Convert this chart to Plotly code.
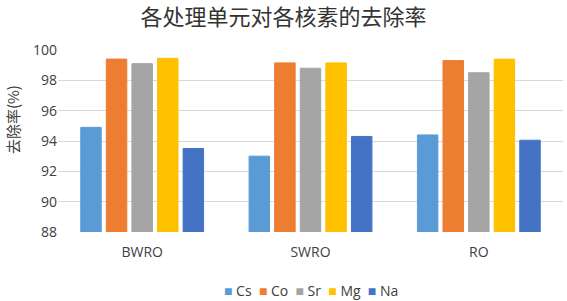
import plotly.graph_objects as go

categories = ["BWRO", "SWRO", "RO"]
series_names = ["Cs", "Co", "Sr", "Mg", "Na"]
cs = [94.9, 93.0, 94.4]
co = [99.4, 99.15, 99.3]
sr = [99.1, 98.8, 98.5]
mg = [99.45, 99.15, 99.4]
na = [93.5, 94.3, 94.05]
colors = ["#5B9BD5", "#ED7D31", "#A5A5A5", "#FFC000", "#4472C4"]
y_ticks = [88, 90, 92, 94, 96, 98, 100]

values = [cs, co, sr, mg, na]
fig = go.Figure()
for name, vals, col in zip(series_names, values, colors):
    fig.add_trace(go.Bar(x=categories, y=vals, name=name, showlegend=False,
                         marker=dict(color=col, line=dict(color=col, width=1))))

legend_text = "&nbsp;&nbsp;".join(
    f"<span style='color:{c}'>■</span> {n}" for n, c in zip(series_names, colors))
fig.add_annotation(text=legend_text, xref="paper", yref="paper", x=0.5, y=-0.324,
                   xanchor="center", yanchor="middle", showarrow=False,
                   font=dict(family="Open Sans", size=14, color="#404040"))
fig.add_annotation(text="去除率(%)", xref="paper", yref="paper", x=-0.091, y=0.615,
                   xanchor="center", yanchor="middle", showarrow=False, textangle=-90,
                   font=dict(family="Noto Sans CJK SC", size=15, color="#404040"))

fig.update_layout(
    width=567, height=301,
    margin=dict(l=58, r=4, t=50, b=69),
    paper_bgcolor="white", plot_bgcolor="white",
    title=dict(text="各处理单元对各核素的去除率", x=0.5, xanchor="center", y=0.9435, yanchor="middle",
               font=dict(family="Noto Sans CJK SC", size=22, color="#333333")),
    barmode="group", bargap=0.24, bargroupgap=0.2,
    font=dict(family="Open Sans, Noto Sans CJK SC", size=14, color="#404040"),
    xaxis=dict(showgrid=False, showline=False, ticks="", tickfont=dict(size=14), ticklabelstandoff=10),
    yaxis=dict(range=[88, 100], tickvals=y_ticks, showgrid=True, gridcolor="#D9D9D9", gridwidth=1,
               zeroline=False, showline=False, ticks="", tickfont=dict(size=14)),
)
fig.write_html("out.html", config={"displayModeBar": False},
               post_script="document.body.style.margin='0';document.body.style.overflow='hidden';")
